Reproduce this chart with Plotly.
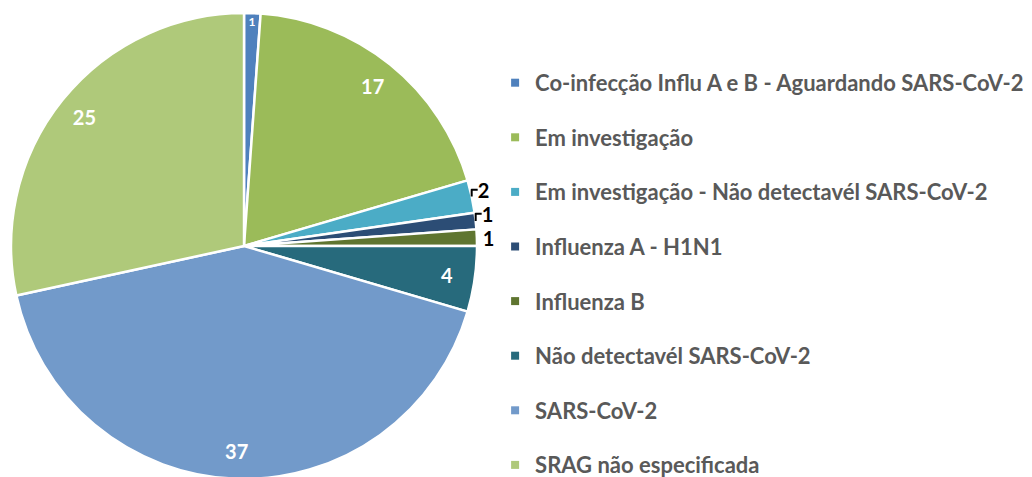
import plotly.graph_objects as go

# dados
categorias = [
    "Co-infecção Influ A e B - Aguardando SARS-CoV-2",
    "Em investigação",
    "Em investigação - Não detectavél SARS-CoV-2",
    "Influenza A - H1N1",
    "Influenza B",
    "Não detectavél SARS-CoV-2",
    "SARS-CoV-2",
    "SRAG não especificada",
]
casos = [1, 17, 2, 1, 1, 4, 37, 25]

cores = ["#4F81BD", "#9BBB59", "#4BACC6", "#2C4D75",
         "#5F7530", "#276A7C", "#729ACA", "#AFC97A"]
# rótulos pequenos ficam fora da pizza, os demais dentro
rotulo_fora = [False, False, True, True, True, False, False, False]

dominio = dict(x=[0.0029, 0.4545], y=[0.0126, 0.9895])

fig = go.Figure()
# pizza principal (rótulos externos)
fig.add_trace(go.Pie(
    labels=categorias,
    values=casos,
    sort=False,
    direction="clockwise",
    rotation=0,
    marker=dict(colors=cores, line=dict(color="white", width=2.5)),
    textinfo="value",
    textposition=["outside" if f else "none" for f in rotulo_fora],
    outsidetextfont=dict(family="Lato", size=20, color="black", weight="bold"),
    domain=dominio,
    showlegend=False,
))
# anel transparente só para posicionar os rótulos internos perto da borda
fig.add_trace(go.Pie(
    labels=categorias,
    values=casos,
    sort=False,
    direction="clockwise",
    rotation=0,
    hole=0.76,
    marker=dict(colors=["rgba(0,0,0,0)"] * len(casos), line=dict(width=0)),
    textinfo="value",
    textposition=["none" if f else "inside" for f in rotulo_fora],
    insidetextorientation="horizontal",
    insidetextfont=dict(family="Lato", size=20, color="white", weight="bold"),
    hoverinfo="skip",
    domain=dominio,
    showlegend=False,
))

# legenda com espaçamento igual ao original
for i, nome in enumerate(categorias):
    fig.add_trace(go.Scatter(
        x=[None], y=[None], mode="markers", name=nome,
        marker=dict(symbol="square", size=8, color=cores[i]),
        legendgroup=f"g{i}", showlegend=True,
    ))

fig.update_layout(
    width=1032, height=477,
    margin=dict(l=0, r=0, t=0, b=0, autoexpand=False),
    paper_bgcolor="white", plot_bgcolor="white",
    xaxis=dict(visible=False), yaxis=dict(visible=False),
    legend=dict(
        x=0.472, y=0.887, xanchor="left", yanchor="top",
        bgcolor="rgba(0,0,0,0)",
        font=dict(family="Lato", size=22, color="#595959", weight="bold"),
        tracegroupgap=23, traceorder="grouped",
        itemclick=False,
    ),
)

fig.write_html("out.html")
